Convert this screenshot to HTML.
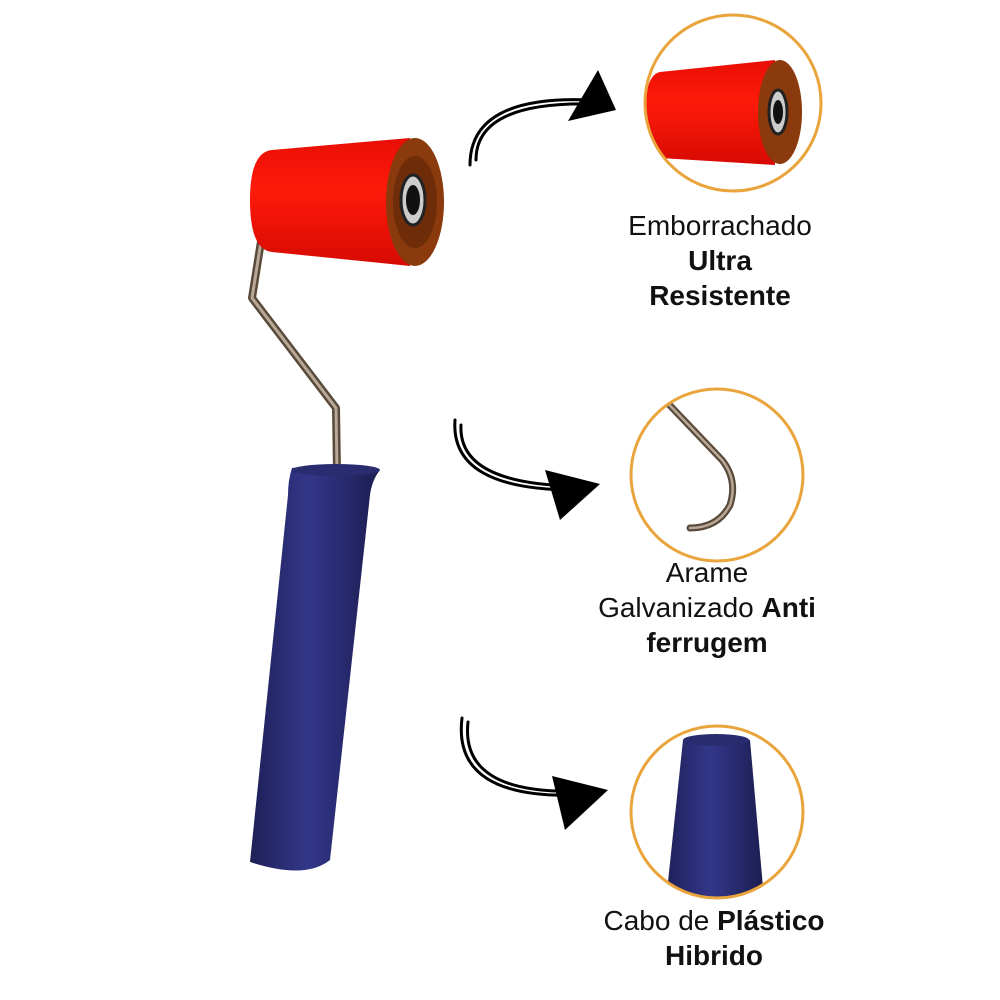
<!DOCTYPE html>
<html><head><meta charset="utf-8"><style>
html,body{margin:0;padding:0;background:#fff;}
body{width:1000px;height:1000px;overflow:hidden;position:relative;font-family:"Liberation Sans",sans-serif;}
.t{position:absolute;text-align:center;font-size:28px;line-height:35px;color:#111;width:300px;}
b{font-weight:bold;}
</style></head><body>
<svg width="1000" height="1000" style="position:absolute;left:0;top:0">
<defs>
<linearGradient id="red" x1="0" y1="0" x2="0" y2="1">
<stop offset="0" stop-color="#e80e05"/><stop offset="0.4" stop-color="#ff1a0a"/><stop offset="1" stop-color="#d60a03"/></linearGradient>
<linearGradient id="nv" x1="0" y1="0" x2="1" y2="0">
<stop offset="0" stop-color="#1e2057"/><stop offset="0.45" stop-color="#33378a"/><stop offset="1" stop-color="#1c1d50"/></linearGradient>
<clipPath id="c1"><circle cx="733" cy="103" r="88"/></clipPath>
<clipPath id="c2"><circle cx="717" cy="475" r="86"/></clipPath>
<clipPath id="c3"><circle cx="717" cy="812" r="86"/></clipPath>
</defs>
<path d="M262 235 L252 298 L336 408 L337 472" fill="none" stroke="#5a4a3a" stroke-width="8" stroke-linejoin="round"/>
<path d="M262 235 L252 298 L336 408 L337 472" fill="none" stroke="#b8a898" stroke-width="3" stroke-linejoin="round"/>
<path d="M292 468 Q335 462 380 470 Q372 480 370 495 L330 860 Q305 880 250 862 L288 495 Q288 480 292 468 Z" fill="url(#nv)"/>
<ellipse cx="336" cy="470" rx="44" ry="6" fill="#2a2c70"/>
<path d="M272 150 L410 138 L410 266 L272 252 Q250 250 250 200 Q250 152 272 150 Z" fill="url(#red)"/>
<ellipse cx="415" cy="202" rx="29" ry="64" fill="#8a3a0c"/>
<ellipse cx="415" cy="202" rx="22" ry="46" fill="#6e2c08"/>
<ellipse cx="413" cy="200" rx="12" ry="25" fill="#ccc" stroke="#222" stroke-width="3"/>
<ellipse cx="413" cy="200" rx="7" ry="15" fill="#111"/>
<g clip-path="url(#c1)">
<path d="M660 72 L775 60 L775 165 L660 158 Q645 155 645 115 Q645 75 660 72 Z" fill="url(#red)"/>
<ellipse cx="780" cy="112" rx="22" ry="52" fill="#8a3a0c"/>
<ellipse cx="778" cy="112" rx="9" ry="22" fill="#ccc" stroke="#222" stroke-width="3"/>
<ellipse cx="778" cy="112" rx="5" ry="12" fill="#111"/>
</g>
<circle cx="733" cy="103" r="88" fill="none" stroke="#e9a43c" stroke-width="3"/>
<g clip-path="url(#c2)">
<path d="M660 395 L722 460 Q738 480 730 505 Q718 528 690 528" fill="none" stroke="#5a4a3a" stroke-width="7" stroke-linecap="round"/>
<path d="M660 395 L722 460 Q738 480 730 505 Q718 528 690 528" fill="none" stroke="#b8a898" stroke-width="2.5" stroke-linecap="round"/>
</g>
<circle cx="717" cy="475" r="86" fill="none" stroke="#e9a43c" stroke-width="3"/>
<g clip-path="url(#c3)">
<path d="M683 740 Q715 733 750 740 L765 910 L665 910 Z" fill="url(#nv)"/>
<ellipse cx="716" cy="740" rx="33" ry="6" fill="#2a2c70"/>
</g>
<circle cx="717" cy="812" r="86" fill="none" stroke="#e9a43c" stroke-width="3"/>
<g fill="none" stroke="#000" stroke-width="3" stroke-linecap="round">
<path d="M470 165 Q470 95 590 100"/>
<path d="M476 160 Q476 102 590 104"/>
<path d="M455 420 Q450 490 575 490"/>
<path d="M461 425 Q458 484 575 486"/>
<path d="M462 718 Q452 800 580 795"/>
<path d="M468 722 Q460 795 580 791"/>
</g>
<path d="M568 121 L598 70 L616 110 Z" fill="#000"/>
<path d="M545 470 L600 484 L560 520 Z" fill="#000"/>
<path d="M552 776 L608 790 L565 830 Z" fill="#000"/>
</svg>
<div class="t" style="left:570px;top:208px">Emborrachado<br><b>Ultra</b><br><b>Resistente</b></div>
<div class="t" style="left:557px;top:555px">Arame<br>Galvanizado <b>Anti</b><br><b>ferrugem</b></div>
<div class="t" style="left:564px;top:903px">Cabo de <b>Plástico</b><br><b>Hibrido</b></div>
</body></html>
